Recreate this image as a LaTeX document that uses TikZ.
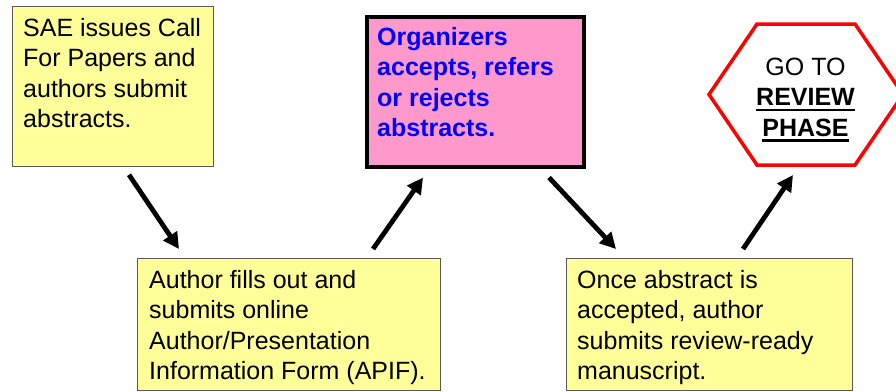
\documentclass[tikz,border=0pt]{standalone}
\usepackage{fontspec}
\setmainfont{Liberation Sans}
\usetikzlibrary{arrows.meta,calc}
\definecolor{boxyellow}{HTML}{FFFF99}
\definecolor{boxpink}{HTML}{FF99CC}
\definecolor{txtblue}{HTML}{0000FF}
\definecolor{hexred}{HTML}{FF0000}
\newsavebox\ulbox
\newcommand\myul[1]{\sbox\ulbox{#1}\rlap{\rule[-5.5pt]{\wd\ulbox}{2.5pt}}\usebox\ulbox}
\begin{document}
\begin{tikzpicture}[x=1pt,y=-1pt,
  ybox/.style={draw=black!65, line width=0.8pt, fill=boxyellow, inner sep=0pt, anchor=north west},
  pbox/.style={draw=black, line width=3.5pt, fill=boxpink, inner sep=0pt, anchor=north west},
  txt/.style={anchor=north west, inner sep=0pt, align=left, font=\fontsize{25}{30.5}\selectfont},
  flow/.style={line width=4.8pt, -{Triangle[length=16pt,width=16pt]}},
  hexline/.style={draw=hexred, line width=3.5pt, line join=miter}
]
\useasboundingbox (0,0) rectangle (896,391);
\clip (0,0) rectangle (896,391);

% boxes
\node[ybox, minimum width=201pt, minimum height=160pt] (b1) at (12,6) {};
\node[txt] (t1) at (23,14.65) {\strut SAE issues Call\\For Papers and\\authors submit\\abstracts.};

\node[pbox, minimum width=217pt, minimum height=150pt] (b2) at (365,15) {};
\node[txt, text=txtblue, font=\fontsize{25}{30.5}\selectfont\bfseries] (t2) at (377,23.65) {\strut Organizers\\accepts, refers\\or rejects\\abstracts.};

\node[ybox, minimum width=303pt, minimum height=132pt] (b3) at (137,258) {};
\node[txt] (t3) at (149,266.65) {\strut Author fills out and\\submits online\\Author/Presentation\\Information Form (APIF).};

\node[ybox, minimum width=286pt, minimum height=132pt] (b4) at (566,258) {};
\node[txt] (t4) at (577,266.65) {\strut Once abstract is\\accepted, author\\submits review-ready\\manuscript.};

% hexagon
\coordinate (hl) at (709,94.5);
\coordinate (htl) at (757,24);
\coordinate (htr) at (855,24);
\coordinate (hr) at (903,94.5);
\coordinate (hbr) at (855,165);
\coordinate (hbl) at (757,165);
\draw[hexline] (hl) -- (htl) -- (htr) -- (hr) -- (hbr) -- (hbl) -- cycle;
\node[anchor=north, inner sep=0pt, align=center, font=\fontsize{25}{30.5}\selectfont] (hx) at (805.5,53.65)
  {\strut GO TO\\\textbf{\myul{REVIEW}}\\\textbf{\myul{PHASE}}};

% connectors
\coordinate (a1s) at ($(b1.south west)+(117,8)$);
\coordinate (a1e) at ($(b3.north west)+(42,-9)$);
\coordinate (a2s) at ($(b3.north west)+(236,-9)$);
\coordinate (a2e) at ($(b2.south west)+(58,9)$);
\coordinate (a3s) at ($(b2.south west)+(184,9)$);
\coordinate (a3e) at ($(b4.north west)+(50,-9)$);
\coordinate (a4s) at ($(b4.north west)+(177,-9)$);
\coordinate (a4e) at ($(hbl)+(36,10)$);
\draw[flow] (a1s) -- (a1e);
\draw[flow] (a2s) -- (a2e);
\draw[flow] (a3s) -- (a3e);
\draw[flow] (a4s) -- (a4e);
\end{tikzpicture}
\end{document}
